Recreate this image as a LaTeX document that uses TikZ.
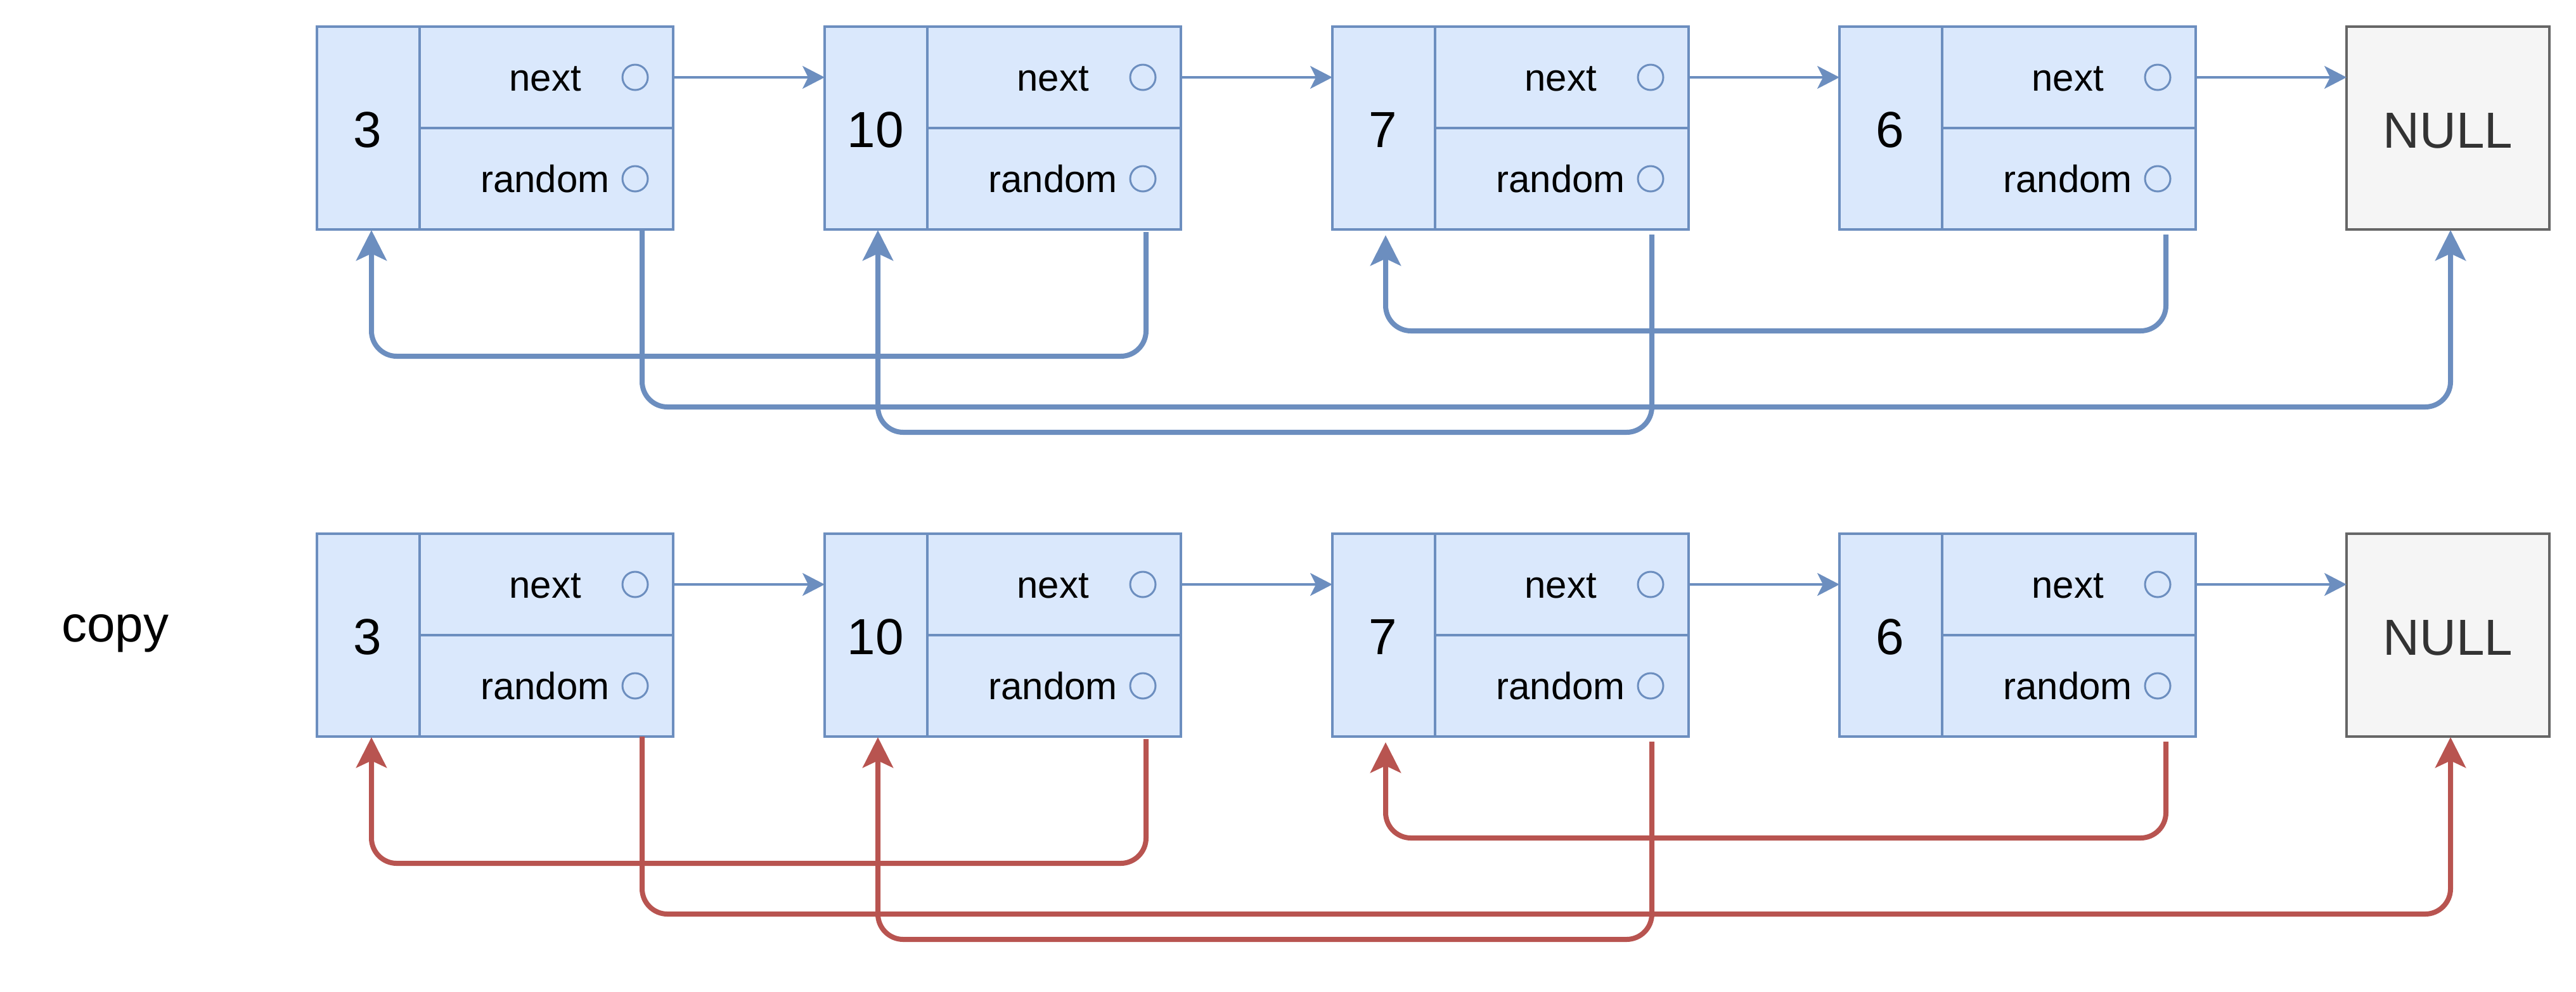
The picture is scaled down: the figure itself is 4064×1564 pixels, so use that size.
\documentclass[tikz,border=0pt]{standalone}
\usepackage{fontspec}
\setmainfont{Liberation Sans}
\usetikzlibrary{arrows.meta,calc}
\definecolor{bfill}{HTML}{DAE8FC}
\definecolor{bstroke}{HTML}{6C8EBF}
\definecolor{rline}{HTML}{B85450}
\definecolor{gfill}{HTML}{F5F5F5}
\definecolor{gstroke}{HTML}{666666}
\definecolor{gtext}{HTML}{333333}
\begin{document}
\begin{tikzpicture}[x=0.2pt,y=-0.2pt,
 cell/.style={draw=bstroke, fill=bfill, line width=0.8pt, inner sep=0pt, outer sep=0pt, anchor=north west},
 valcell/.style={cell, minimum width=32.4pt, minimum height=64pt},
 ptrcell/.style={cell, minimum width=80pt, minimum height=32pt},
 nullbox/.style={draw=gstroke, fill=gfill, line width=0.8pt, inner sep=0pt, outer sep=0pt, anchor=north west, minimum width=64pt, minimum height=64pt},
 num/.style={font=\fontsize{16}{19}\selectfont, anchor=base, inner sep=0pt},
 lbl/.style={font=\fontsize{12}{14}\selectfont, anchor=base, inner sep=0pt},
 port/.style={circle, draw=bstroke, line width=0.6pt, minimum size=8pt, inner sep=0pt},
 nextarrow/.style={draw=bstroke, line width=0.7pt, -{Stealth[length=7pt,width=7.2pt,inset=1.8pt]}},
 rlink/.style={line width=1.6pt, rounded corners=8pt, -{Stealth[length=9.6pt,width=9.6pt,inset=2.2pt]}},
]
\useasboundingbox (0,0) rectangle (4064,1564);
\foreach \r/\T/\col in {a/42/bstroke, b/842/rline} {
  \foreach \i/\L/\val in {1/500/3, 2/1301/10, 3/2102/7, 4/2902/6} {
    \node[valcell] (v\r\i) at (\L,\T) {};
    \node[ptrcell] (n\r\i) at (\L+162,\T) {};
    \node[ptrcell] (r\r\i) at (\L+162,\T+160) {};
    \node[num] (vt\r\i) at (\L+80,\T+190) {\val};
    \node[lbl] (nt\r\i) at (\L+360,\T+101) {next};
    \node[lbl] (rt\r\i) at (\L+360,\T+261) {random};
    \node[port] (np\r\i) at (\L+502,\T+80) {};
    \node[port] (rp\r\i) at (\L+502,\T+240) {};
  }
  \node[nullbox] (null\r) at (3702,\T) {};
  \node[num, text=gtext] (nullt\r) at (3862,\T+191) {NULL};
  \draw[nextarrow] (n\r1.east) -- (n\r1.east -| v\r2.west);
  \draw[nextarrow] (n\r2.east) -- (n\r2.east -| v\r3.west);
  \draw[nextarrow] (n\r3.east) -- (n\r3.east -| v\r4.west);
  \draw[nextarrow] (n\r4.east) -- (n\r4.east -| null\r.west);
  \draw[rlink, color=\col] ($(r\r1.south west)+(351,0)$) -- ++(0,280) -| ($(null\r.south)+(4,1)$);
  \draw[rlink, color=\col] ($(r\r2.south west)+(345,4)$) -- ++(0,196) -| ($(v\r1.south)+(5,1)$);
  \draw[rlink, color=\col] ($(r\r3.south west)+(342,8)$) -- ++(0,312) -| ($(v\r2.south)+(3,1)$);
  \draw[rlink, color=\col] ($(r\r4.south west)+(353,8)$) -- ++(0,152) -| ($(v\r3.south)+(3,9)$);
}
\node[num] (copylbl) at (182,1012) {copy};
\end{tikzpicture}
\end{document}
